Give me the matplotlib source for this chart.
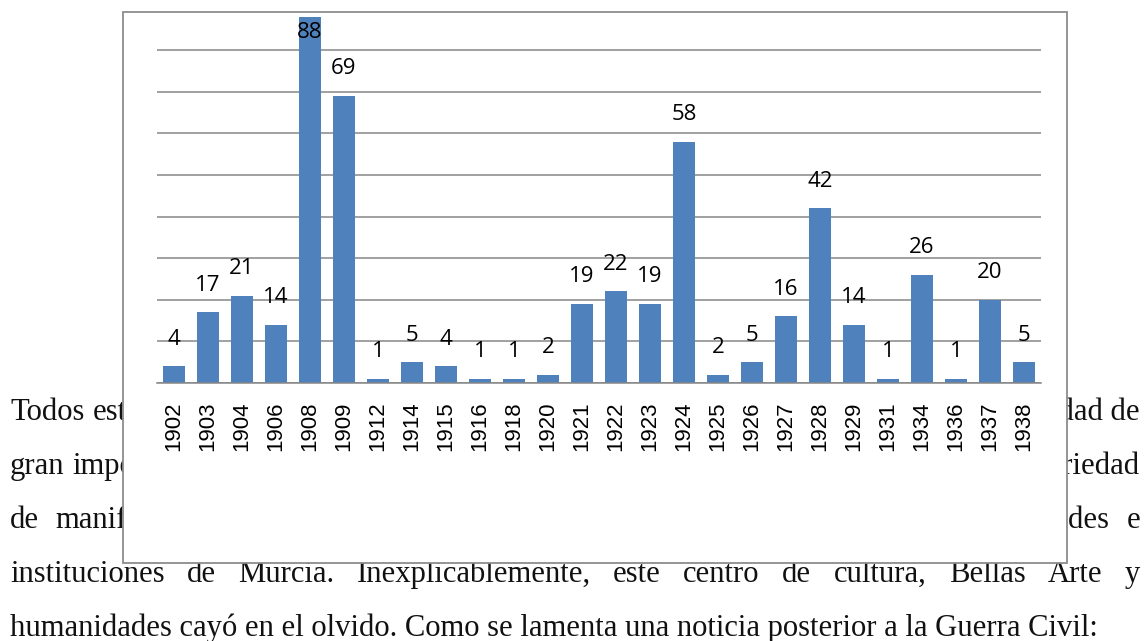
import matplotlib
matplotlib.use('Agg')
import matplotlib.pyplot as plt
from matplotlib.patches import Rectangle

# ---- data ----
years = ['1902', '1903', '1904', '1906', '1908', '1909', '1912', '1914', '1915',
         '1916', '1918', '1920', '1921', '1922', '1923', '1924', '1925', '1926',
         '1927', '1928', '1929', '1931', '1934', '1936', '1937', '1938']
counts = [4, 17, 21, 14, 88, 69, 1, 5, 4, 1, 1, 2, 19, 22, 19, 58, 2, 5, 16, 42,
          14, 1, 26, 1, 20, 5]

# surrounding document text (partly hidden behind the chart)
line1_left = ['Todos', 'est']
line2_left = ['gran', 'impor']
line3_left = ['de', 'manife']
line1_right = ['idad', 'de']
line2_right = ['oriedad']
line3_right = ['dades', 'e']
line4 = 'instituciones de Murcia. Inexplicablemente, este centro de cultura, Bellas Arte y'
line5 = 'humanidades cayó en el olvido. Como se lamenta una noticia posterior a la Guerra Civil:'

W, H = 1146, 641
fig = plt.figure(figsize=(W / 100, H / 100), dpi=100)
fig.patch.set_facecolor('white')
renderer = fig.canvas.get_renderer()


def fx(px):
    return px / W


def fy(py):
    return 1 - py / H


serif = ['Liberation Serif', 'DejaVu Serif']
txtkw = dict(family=serif, va='baseline', color='#111111', zorder=-5)

# choose the text size so that the last (unjustified) line spans its width
probe = fig.text(0, 0, line5, fontsize=20, **txtkw)
w20 = probe.get_window_extent(renderer).width
probe.remove()
fs = 20 * (1100 - 10) / w20
txtkw['fontsize'] = fs

baselines = [420, 474, 528, 582, 636]


def measure(word):
    t = fig.text(0, 0, word, **txtkw)
    w = t.get_window_extent(renderer).width
    t.remove()
    return w


space = measure('a a') - 2 * measure('a')


def place_left(words, y, starts):
    for w, x0 in zip(words, starts):
        fig.text(fx(x0), fy(y), w, ha='left', **txtkw)


# left fragments (justified lines: stretched spaces)
place_left(line1_left, baselines[0], [10, 10 + measure('Todos') + space * 1.1])
place_left(line2_left, baselines[1], [10, 10 + measure('gran') + space * 1.1])
place_left(line3_left, baselines[2], [10, 10 + measure('de') + space * 2.2])

# right fragments
fig.text(fx(1140), fy(baselines[0]), ' '.join(line1_right), ha='right', **txtkw)
fig.text(fx(1140), fy(baselines[1]), line2_right[0], ha='right', **txtkw)
fig.text(fx(1140), fy(baselines[2]), line3_right[1], ha='right', **txtkw)
fig.text(fx(1140 - measure('e') - space * 2.2), fy(baselines[2]), line3_right[0],
         ha='right', **txtkw)

# fully justified line
words = line4.split()
widths = [measure(w) for w in words]
gap = (1140 - 10 - sum(widths)) / (len(words) - 1)
x = 10
for w, wd in zip(words, widths):
    fig.text(fx(x), fy(baselines[3]), w, ha='left', **txtkw)
    x += wd + gap

fig.text(fx(10), fy(baselines[4]), line5, ha='left', **txtkw)

# chart box
box = Rectangle((fx(123), fy(563)), fx(1067) - fx(123), fy(12) - fy(563),
                transform=fig.transFigure, facecolor='white', edgecolor='#8c8c8c',
                lw=1.3, zorder=0)
fig.patches.append(box)

# plot area
ax = fig.add_axes([fx(157), fy(383), fx(1041) - fx(157), fy(16) - fy(383)])
ax.set_zorder(1)
ax.set_facecolor('none')
n = len(years)
xs = list(range(n))
ax.bar(xs, counts, width=0.66, color='#4F81BD', zorder=2)
ax.set_xlim(-0.5, n - 0.5)
ax.set_ylim(0, 88.2)
ax.set_yticks(list(range(0, 90, 10)))
ax.tick_params(axis='y', length=0, labelleft=False)
ax.yaxis.grid(True, color='#868686', lw=1.1)
ax.set_axisbelow(True)
for s in ['top', 'right', 'left']:
    ax.spines[s].set_visible(False)
ax.spines['bottom'].set_color('#868686')
ax.spines['bottom'].set_linewidth(1.1)
ax.set_xticks(xs)
ax.set_xticklabels(years, rotation=90, fontsize=16, family=['Liberation Sans', 'DejaVu Sans'])
ax.tick_params(axis='x', length=0, pad=13.5)

for i, v in enumerate(counts):
    ax.text(i, min(v + 6.5, 84.3), str(v), ha='center', va='center', fontsize=16,
            family=['Open Sans', 'DejaVu Sans'], color='black', zorder=3)

fig.savefig('out.png', dpi=100)
